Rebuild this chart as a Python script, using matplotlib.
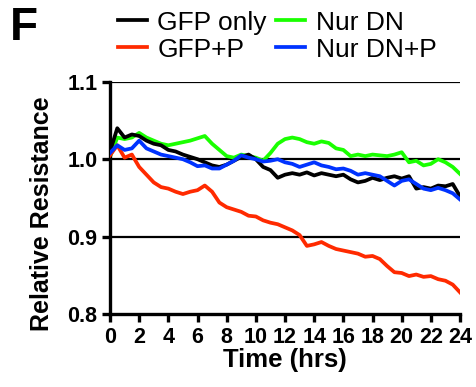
import numpy as np
import matplotlib
matplotlib.use("Agg")
import matplotlib.pyplot as plt

plt.rcParams["font.family"] = ["Liberation Sans", "DejaVu Sans"]

# Time axis (hours), sampled every 0.5 h
hours = np.arange(0, 24.5, 0.5)

gfp_only = [1.010, 1.040, 1.028, 1.032, 1.030, 1.024, 1.020, 1.018, 1.012, 1.010,
            1.006, 1.003, 1.000, 0.996, 0.992, 0.990, 0.993, 0.998, 1.003, 1.006,
            1.000, 0.990, 0.986, 0.976, 0.980, 0.982, 0.980, 0.983, 0.979, 0.982,
            0.980, 0.978, 0.980, 0.974, 0.970, 0.972, 0.976, 0.973, 0.976, 0.978,
            0.975, 0.978, 0.962, 0.964, 0.962, 0.966, 0.965, 0.968, 0.952]

gfp_p = [1.005, 1.018, 1.002, 1.006, 0.990, 0.980, 0.970, 0.964, 0.962, 0.958,
         0.955, 0.958, 0.960, 0.966, 0.958, 0.944, 0.938, 0.935, 0.932, 0.927,
         0.926, 0.921, 0.918, 0.916, 0.912, 0.908, 0.902, 0.888, 0.890, 0.893,
         0.888, 0.884, 0.882, 0.880, 0.878, 0.874, 0.875, 0.871, 0.862, 0.854,
         0.853, 0.849, 0.851, 0.848, 0.849, 0.845, 0.843, 0.838, 0.828]

nur_dn = [1.003, 1.028, 1.026, 1.028, 1.034, 1.028, 1.024, 1.020, 1.018, 1.020,
          1.022, 1.024, 1.027, 1.030, 1.020, 1.012, 1.004, 1.002, 1.006, 1.004,
          1.002, 0.998, 1.008, 1.020, 1.026, 1.028, 1.026, 1.022, 1.020, 1.023,
          1.021, 1.014, 1.012, 1.004, 1.006, 1.004, 1.006, 1.005, 1.004, 1.006,
          1.009, 0.996, 0.998, 0.992, 0.994, 1.000, 0.996, 0.990, 0.981]

nur_dn_p = [1.008, 1.018, 1.012, 1.014, 1.024, 1.014, 1.010, 1.006, 1.004, 1.002,
            1.000, 0.996, 0.991, 0.992, 0.988, 0.988, 0.993, 0.998, 1.005, 1.002,
            1.000, 0.997, 0.998, 1.000, 0.996, 0.994, 0.990, 0.993, 0.996, 0.992,
            0.990, 0.987, 0.988, 0.985, 0.980, 0.982, 0.980, 0.978, 0.972, 0.966,
            0.972, 0.974, 0.968, 0.962, 0.960, 0.963, 0.960, 0.956, 0.948]

x_ticks = list(range(0, 25, 2))
y_ticks = [0.8, 0.9, 1.0, 1.1]

fig = plt.figure(figsize=(4.77, 3.87), dpi=100)
ax = fig.add_axes([0.2306, 0.1886, 0.7338, 0.6])

# horizontal reference lines
for yv in [0.9, 1.0, 1.1]:
    ax.axhline(yv, color="black", lw=1.6, zorder=1)

lw = 2.7
ax.plot(hours, gfp_only, color="black", lw=lw, label="GFP only", zorder=3)
ax.plot(hours, gfp_p, color="#ff2a00", lw=lw, label="GFP+P", zorder=3)
ax.plot(hours, nur_dn, color="#1aff00", lw=lw, label="Nur DN", zorder=2)
ax.plot(hours, nur_dn_p, color="#0033ff", lw=lw, label="Nur DN+P", zorder=4)

ax.set_xlim(0, 24)
ax.set_ylim(0.8, 1.1)
ax.set_xticks(x_ticks)
ax.set_yticks(y_ticks)
ax.set_yticklabels(["%.1f" % v for v in y_ticks])

for s in ["top", "right"]:
    ax.spines[s].set_visible(False)
for s in ["left", "bottom"]:
    ax.spines[s].set_linewidth(2.4)

ax.tick_params(axis="both", direction="out", length=6, width=2.4,
               labelsize=15.5, pad=3)
for lab in ax.get_xticklabels() + ax.get_yticklabels():
    lab.set_fontweight("bold")

ax.set_xlabel("Time (hrs)", fontsize=18.5, fontweight="bold", labelpad=0)
ax.set_ylabel("Relative Resistance", fontsize=18, fontweight="bold")
ax.yaxis.set_label_coords(-0.16, 0.43)

fig.text(0.02, 0.985, "F", fontsize=33, fontweight="bold", va="top", ha="left")

fig.legend(loc="upper left", bbox_to_anchor=(0.225, 1.0), ncol=2,
           frameon=False, fontsize=19, handlelength=1.1, handletextpad=0.4,
           columnspacing=0.35, labelspacing=0.12, borderaxespad=0)

fig.savefig("out.png", dpi=100)
plt.close(fig)
